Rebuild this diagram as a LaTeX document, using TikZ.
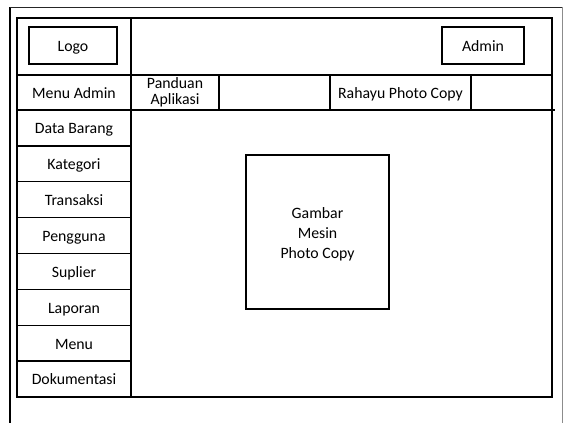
\documentclass[tikz,border=0pt]{standalone}
\usepackage{fontspec}
\setmainfont{Carlito}
\begin{document}
\begin{tikzpicture}[x=1pt,y=-1pt,
  every node/.style={outer sep=0pt,inner sep=0pt},
  box/.style={draw=black,line width=1.6pt,minimum width=#1},
  cell/.style={draw=black,line width=1.4pt,minimum width=114pt,minimum height=35.9pt},
  lbl/.style={font=\fontsize{15.8}{18}\selectfont,align=center},
  one/.style={lbl,text height=13.4pt,text depth=2pt},
  grid/.style={line width=1.2pt,draw=black}]
\useasboundingbox (0,0) rectangle (563,423);
% page frame
\draw[line width=2pt] (10,423) -- (10,7);
\draw[line width=1pt,black!85] (10,7) -- (562,7);
\draw[line width=0.8pt,black!45] (562,7) -- (562,423);
% main layout
\draw[line width=1.6pt] (17,18) rectangle (552,397);
\draw[grid] (131,18) -- (131,397);
\draw[grid] (17,75) -- (552,75);
\draw[grid] (17,110) -- (555,110);
% header
\node[box=88pt,minimum height=37pt,one] (logo) at (73,45.5) {Logo};
\node[box=82pt,minimum height=37pt,one] (admin) at (483,45.5) {Admin};
% second bar
\node[cell,minimum height=35pt,one] (menuadmin) at (74,92.5) {Menu Admin};
\node[box=88pt,line width=1.4pt,minimum height=35pt,lbl] (panduan) at (175,92.5) {Panduan\\[-1.5pt]Aplikasi};
\node[box=141pt,line width=1.4pt,minimum height=35pt,one] (rahayu) at (400.5,92.5) {Rahayu Photo Copy};
% side menu
\node[cell,one] (barang) at (74,127.9) {Data Barang};
\node[cell,one] (kategori) at (74,163.8) {Kategori};
\node[cell,one] (transaksi) at (74,199.7) {Transaksi};
\node[cell,one] (pengguna) at (74,235.6) {Pengguna};
\node[cell,one] (suplier) at (74,271.5) {Suplier};
\node[cell,one] (laporan) at (74,307.4) {Laporan};
\node[cell,one] (menu) at (74,343.3) {Menu};
\node[cell,one] (dok) at (74,379.1) {Dokumentasi};
% content image
\node[box=143pt,line width=1.5pt,minimum height=154pt] (gambar) at (317.5,232) {};
\node[font=\fontsize{15.8}{20}\selectfont,align=center] (gambartxt) at (317.5,234) {Gambar\\Mesin\\Photo Copy};
\end{tikzpicture}
\end{document}
